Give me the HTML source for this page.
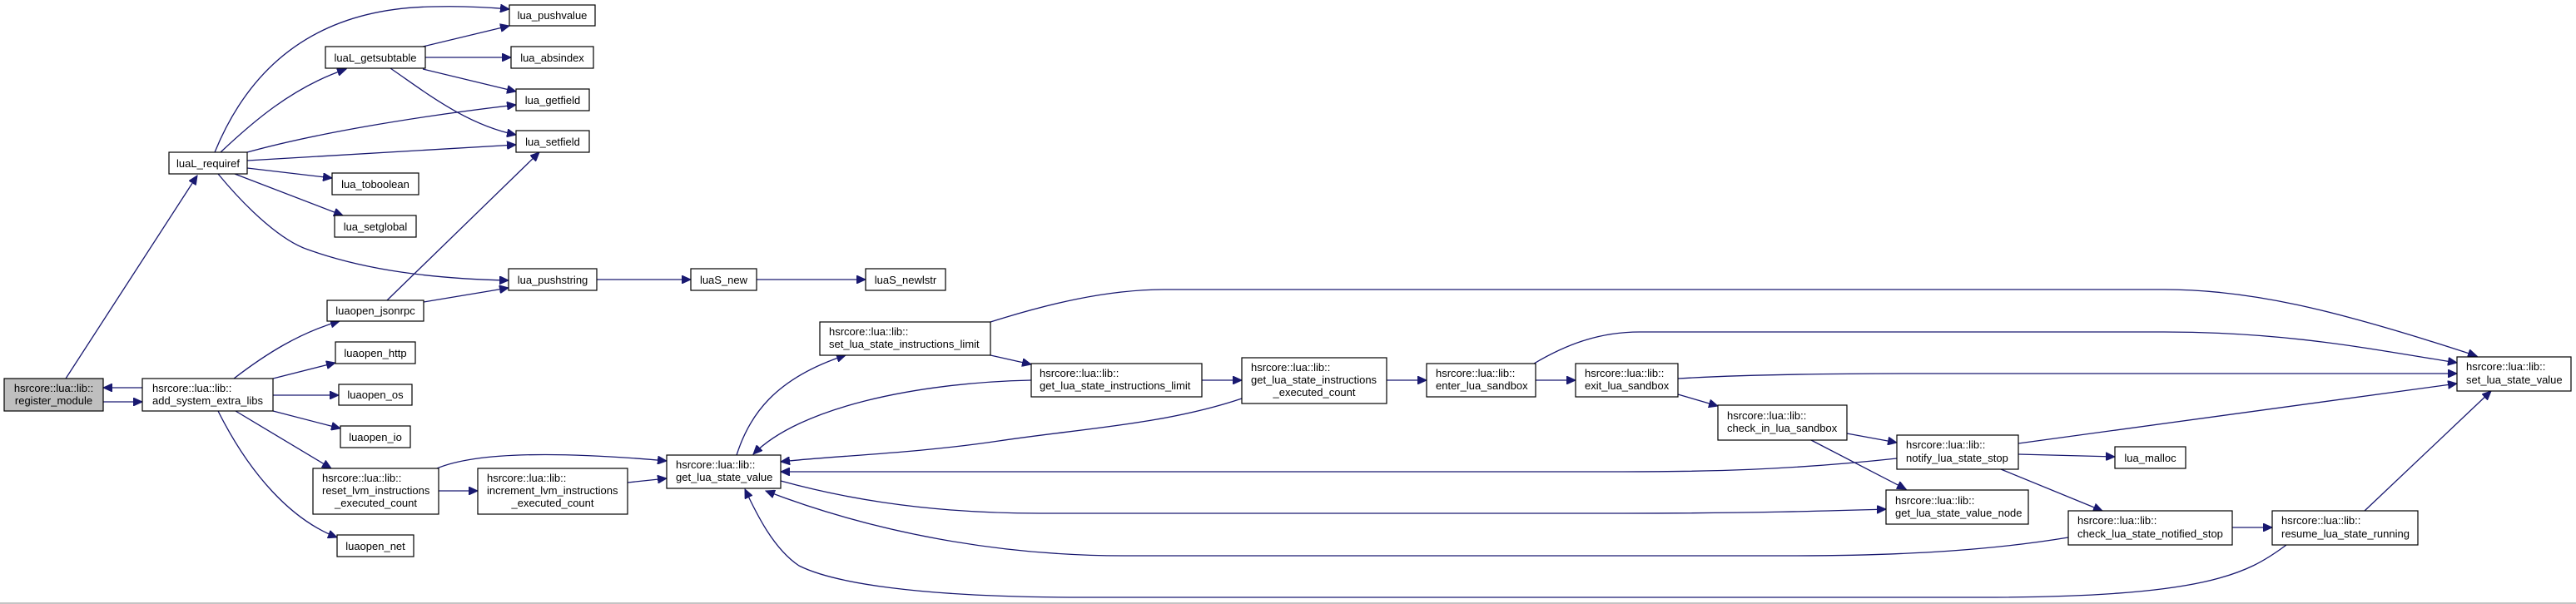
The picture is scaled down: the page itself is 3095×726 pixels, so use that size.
<!DOCTYPE html>
<html><head><meta charset="utf-8"><style>
html,body{margin:0;padding:0;background:#fff;}
svg{display:block;}
text{font-family:"Liberation Sans",sans-serif;font-size:13px;fill:#000;}
.e{fill:none;stroke:#191970;stroke-width:1.3;}
rect{fill:#fff;stroke:#000;stroke-width:1.2;}
</style></head><body>
<svg width="3095" height="726" viewBox="0 0 3095 726" xmlns="http://www.w3.org/2000/svg">
<defs>
<marker id="a" markerUnits="userSpaceOnUse" markerWidth="12" markerHeight="10" refX="11" refY="5" orient="auto">
<path d="M0,0 L11,5 L0,10 z" fill="#191970" stroke="#191970"/>
</marker>
</defs>
<line x1="0" y1="725" x2="3095" y2="725" stroke="#888" stroke-width="1"/>
<g marker-end="url(#a)">
<path class="e" d="M79,455 L237,211"/>
<path class="e" d="M171,466 L124,466"/>
<path class="e" d="M124,483 L171,483"/>
<path class="e" d="M258,183 C300,80 380,10 520,8 C560,7 590,9 612,11"/>
<path class="e" d="M265,183 C300,150 350,105 416,83"/>
<path class="e" d="M297,183 C380,160 500,140 620,126"/>
<path class="e" d="M297,193 L620,174"/>
<path class="e" d="M297,202 L399,214"/>
<path class="e" d="M282,209 L412,259"/>
<path class="e" d="M262,209 C300,255 340,290 370,300 C440,325 520,335 611,337"/>
<path class="e" d="M508,56 L612,31"/>
<path class="e" d="M511,69 L614,69"/>
<path class="e" d="M508,83 L620,110"/>
<path class="e" d="M469,82 C510,110 560,150 620,162"/>
<path class="e" d="M465,361 L648,183"/>
<path class="e" d="M509,363 L611,346"/>
<path class="e" d="M717,336 L830,336"/>
<path class="e" d="M909,336 L1040,336"/>
<path class="e" d="M281,455 C320,425 360,400 408,386"/>
<path class="e" d="M328,455 L403,436"/>
<path class="e" d="M328,475 L407,475"/>
<path class="e" d="M328,494 L409,515"/>
<path class="e" d="M283,494 L398,563"/>
<path class="e" d="M262,494 C300,570 350,625 405,646"/>
<path class="e" d="M527,590 L574,590"/>
<path class="e" d="M525,563 C580,540 700,545 801,554"/>
<path class="e" d="M754,580 L801,575"/>
<path class="e" d="M885,547 C900,500 930,455 1016,427"/>
<path class="e" d="M1239,457 C1100,460 960,490 905,546"/>
<path class="e" d="M1190,427 L1239,438"/>
<path class="e" d="M1190,387 C1260,365 1330,348 1400,348 L2600,348 C2700,348 2800,370 2976,428"/>
<path class="e" d="M1444,457 L1492,457"/>
<path class="e" d="M1492,479 C1400,510 1300,515 1200,530 C1100,545 1000,548 938,555"/>
<path class="e" d="M1666,457 L1714,457"/>
<path class="e" d="M1843,437 C1880,415 1920,399 1970,399 L2600,399 C2750,399 2850,420 2952,436"/>
<path class="e" d="M1845,457 L1893,457"/>
<path class="e" d="M2016,455 C2100,450 2200,449 2300,449 L2952,449"/>
<path class="e" d="M2016,474 L2064,488"/>
<path class="e" d="M2219,521 L2279,532"/>
<path class="e" d="M2176,529 L2290,588"/>
<path class="e" d="M2425,533 L2952,461"/>
<path class="e" d="M2425,546 L2541,549"/>
<path class="e" d="M2279,551 C2150,565 2050,567 1950,567 L938,567"/>
<path class="e" d="M2404,564 L2526,614"/>
<path class="e" d="M938,578 C1000,595 1100,617 1250,617 L1950,617 C2100,617 2200,614 2266,612"/>
<path class="e" d="M2485,646 C2400,660 2300,668 2150,668 L1350,668 C1200,668 1050,640 920,590"/>
<path class="e" d="M2682,634 L2730,634"/>
<path class="e" d="M2841,614 L2993,470"/>
<path class="e" d="M2747,655 C2700,690 2650,718 2380,718 L1300,718 C1100,718 1000,700 960,680 C930,660 910,620 895,588"/>
</g>

<rect x="5" y="455" width="119" height="39" style="fill:#bfbfbf"/>
<text x="64.5" y="471" text-anchor="middle">hsrcore::lua::lib::</text>
<text x="64.5" y="486" text-anchor="middle">register_module</text>

<rect x="171" y="455" width="157" height="39"/>
<text x="183" y="471">hsrcore::lua::lib::</text>
<text x="183" y="486">add_system_extra_libs</text>

<rect x="203" y="183" width="94" height="26"/><text x="250" y="201" text-anchor="middle">luaL_requiref</text>
<rect x="391" y="56" width="120" height="26"/><text x="451" y="74" text-anchor="middle">luaL_getsubtable</text>
<rect x="612" y="6" width="103" height="25"/><text x="663.5" y="23" text-anchor="middle">lua_pushvalue</text>
<rect x="614" y="56" width="99" height="26"/><text x="663.5" y="74" text-anchor="middle">lua_absindex</text>
<rect x="620" y="107" width="88" height="26"/><text x="664" y="125" text-anchor="middle">lua_getfield</text>
<rect x="620" y="157" width="88" height="26"/><text x="664" y="175" text-anchor="middle">lua_setfield</text>
<rect x="399" y="208" width="104" height="26"/><text x="451" y="226" text-anchor="middle">lua_toboolean</text>
<rect x="402" y="259" width="98" height="26"/><text x="451" y="277" text-anchor="middle">lua_setglobal</text>
<rect x="611" y="323" width="106" height="26"/><text x="664" y="341" text-anchor="middle">lua_pushstring</text>
<rect x="393" y="361" width="116" height="25"/><text x="451" y="378" text-anchor="middle">luaopen_jsonrpc</text>
<rect x="403" y="411" width="96" height="26"/><text x="451" y="429" text-anchor="middle">luaopen_http</text>
<rect x="407" y="462" width="88" height="25"/><text x="451" y="479" text-anchor="middle">luaopen_os</text>
<rect x="409" y="512" width="84" height="26"/><text x="451" y="530" text-anchor="middle">luaopen_io</text>
<rect x="405" y="643" width="92" height="26"/><text x="451" y="661" text-anchor="middle">luaopen_net</text>

<rect x="376" y="563" width="151" height="55"/>
<text x="387" y="579">hsrcore::lua::lib::</text>
<text x="387" y="594">reset_lvm_instructions</text>
<text x="451.5" y="609" text-anchor="middle">_executed_count</text>

<rect x="574" y="563" width="180" height="55"/>
<text x="585" y="579">hsrcore::lua::lib::</text>
<text x="585" y="594">increment_lvm_instructions</text>
<text x="664" y="609" text-anchor="middle">_executed_count</text>

<rect x="830" y="323" width="79" height="26"/><text x="869.5" y="341" text-anchor="middle">luaS_new</text>
<rect x="1040" y="323" width="96" height="26"/><text x="1088" y="341" text-anchor="middle">luaS_newlstr</text>

<rect x="985" y="387" width="205" height="40"/>
<text x="996" y="403">hsrcore::lua::lib::</text>
<text x="996" y="418">set_lua_state_instructions_limit</text>

<rect x="1239" y="437" width="205" height="40"/>
<text x="1249" y="453">hsrcore::lua::lib::</text>
<text x="1249" y="468">get_lua_state_instructions_limit</text>

<rect x="1492" y="430" width="174" height="55"/>
<text x="1503" y="446">hsrcore::lua::lib::</text>
<text x="1503" y="461">get_lua_state_instructions</text>
<text x="1579" y="476" text-anchor="middle">_executed_count</text>

<rect x="1714" y="437" width="131" height="40"/>
<text x="1725" y="453">hsrcore::lua::lib::</text>
<text x="1725" y="468">enter_lua_sandbox</text>

<rect x="801" y="547" width="137" height="40"/>
<text x="812" y="563">hsrcore::lua::lib::</text>
<text x="812" y="578">get_lua_state_value</text>

<rect x="1893" y="437" width="123" height="40"/>
<text x="1904" y="453">hsrcore::lua::lib::</text>
<text x="1904" y="468">exit_lua_sandbox</text>

<rect x="2064" y="487" width="155" height="42"/>
<text x="2075" y="504">hsrcore::lua::lib::</text>
<text x="2075" y="519">check_in_lua_sandbox</text>

<rect x="2279" y="523" width="146" height="41"/>
<text x="2290" y="539">hsrcore::lua::lib::</text>
<text x="2290" y="555">notify_lua_state_stop</text>

<rect x="2541" y="537" width="85" height="26"/><text x="2583.5" y="555" text-anchor="middle">lua_malloc</text>

<rect x="2266" y="589" width="171" height="41"/>
<text x="2277" y="606">hsrcore::lua::lib::</text>
<text x="2277" y="621">get_lua_state_value_node</text>

<rect x="2485" y="614" width="197" height="41"/>
<text x="2496" y="630">hsrcore::lua::lib::</text>
<text x="2496" y="646">check_lua_state_notified_stop</text>

<rect x="2730" y="614" width="175" height="41"/>
<text x="2741" y="630">hsrcore::lua::lib::</text>
<text x="2741" y="646">resume_lua_state_running</text>

<rect x="2952" y="429" width="137" height="41"/>
<text x="2963" y="445">hsrcore::lua::lib::</text>
<text x="2963" y="461">set_lua_state_value</text>
</svg>
</body></html>
